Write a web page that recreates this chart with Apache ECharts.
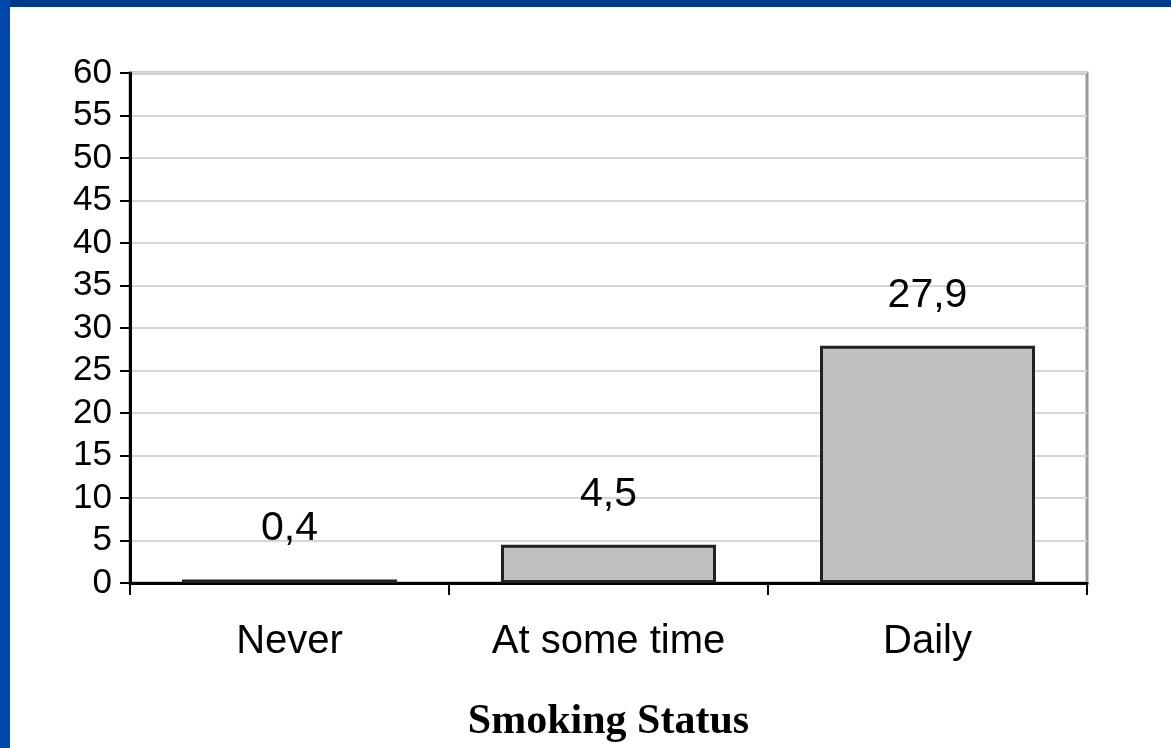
<!DOCTYPE html>
<html>
<head>
<meta charset="utf-8">
<script src="https://cdn.jsdelivr.net/npm/echarts@6/dist/echarts.min.js"></script>
<style>
  html, body { margin: 0; padding: 0; background: #ffffff; }
  #wrap { position: relative; width: 1171px; height: 748px; overflow: hidden; background: #ffffff; }
  #topbar { position: absolute; left: 0; top: 0; width: 1171px; height: 7px; background: #003a8c; z-index: 2; }
  #leftbar { position: absolute; left: 0; top: 0; width: 10px; height: 748px; background: #0047ab; z-index: 2; }
  #chart { position: absolute; left: 0; top: 0; width: 1171px; height: 748px; }
</style>
</head>
<body>
<div id="wrap">
  <div id="chart"></div>
  <div id="topbar"></div>
  <div id="leftbar"></div>
</div>
<script>
const categories = ['Never', 'At some time', 'Daily'];
const values = [0.4, 4.5, 27.9];
const axisTitle = 'Smoking Status';
const yMin = 0, yMax = 60, yStep = 5;

const chart = echarts.init(document.getElementById('chart'), null, { renderer: 'canvas' });
chart.setOption({
  animation: false,
  backgroundColor: '#ffffff',
  grid: {
    left: 130, right: 84, top: 73, bottom: 165,
    containLabel: false,
    outerBoundsMode: 'none',
    show: true, borderColor: '#9a9a9a', borderWidth: 3, backgroundColor: 'transparent'
  },
  xAxis: {
    type: 'category',
    data: categories,
    boundaryGap: true,
    axisLine: { lineStyle: { color: '#000', width: 3 } },
    axisTick: { show: true, length: 12, lineStyle: { color: '#000', width: 2 } },
    axisLabel: {
      margin: 39, color: '#000',
      fontFamily: 'Liberation Sans, Arial, sans-serif', fontSize: 40
    },
    name: axisTitle,
    nameLocation: 'middle',
    nameGap: 118,
    nameTextStyle: {
      color: '#000', fontFamily: 'Liberation Serif, Times New Roman, serif',
      fontWeight: 'bold', fontSize: 42
    }
  },
  yAxis: {
    type: 'value',
    min: yMin, max: yMax, interval: yStep,
    axisLine: { show: true, lineStyle: { color: '#000', width: 3 } },
    axisTick: { show: true, length: 10, lineStyle: { color: '#000', width: 2 } },
    axisLabel: {
      margin: 18, color: '#000',
      fontFamily: 'Liberation Sans, Arial, sans-serif', fontSize: 35
    },
    splitLine: { show: true, lineStyle: { color: '#d6d6d6', width: 2 } }
  },
  series: [{
    type: 'bar',
    data: values,
    barWidth: 215,
    itemStyle: { color: '#c0c0c0', borderColor: '#222222', borderWidth: 3 },
    label: {
      show: true, position: 'top', distance: 30,
      color: '#000', fontFamily: 'Liberation Sans, Arial, sans-serif', fontSize: 41,
      formatter: p => String(p.value).replace('.', ',')
    }
  }]
});
</script>
</body>
</html>
